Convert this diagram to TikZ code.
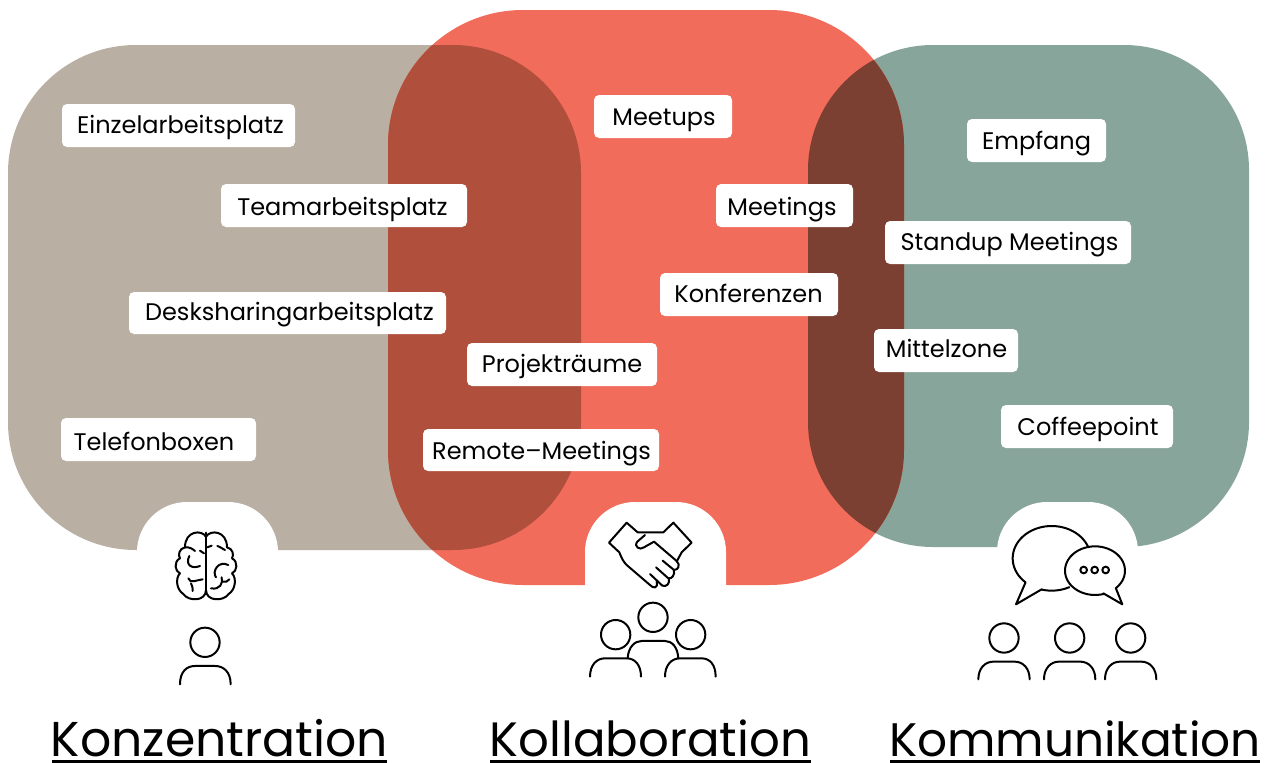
\documentclass[tikz,border=0pt]{standalone}
\usepackage{fontspec}
\setmainfont{Poppins}
\definecolor{tanc}{HTML}{B9AFA3}
\definecolor{redc}{HTML}{F16C5B}
\definecolor{greenc}{HTML}{88A59B}
\definecolor{tanred}{HTML}{AF4F3C}
\definecolor{redgreen}{HTML}{7B4032}
\tikzset{
  lab/.style={fill=white,rounded corners=5pt,inner sep=0pt},
  labt/.style={inner sep=0pt,anchor=base,font=\fontsize{24}{26}\selectfont,text=black},
  ttl/.style={inner sep=0pt,text=black,anchor=base},
  ul/.style={line width=3pt,draw=black},
  ic/.style={line width=2pt,draw=black,line join=round,line cap=round},
}
\newcommand{\tanpath}{[rounded corners=128pt] (8,45) rectangle (581,550)}
\newcommand{\redpath}{[rounded corners=135pt] (388,10) rectangle (904,585)}
\newcommand{\greenpath}{[rounded corners=125pt] (808,45) rectangle (1249,547)}
\newcommand{\lbl}[6]{\node[lab,minimum width=#3 pt,minimum height=#4 pt] (#1) at (#2) {}; \node[labt] (#1t) at (#5) {#6};}
\newcommand{\notchat}[2]{\fill[white] (#1,#2) [rounded corners=50pt] -- (#1,502) -- (#1+141,502) [sharp corners] -- (#1+141,#2) -- cycle;}
\begin{document}
\begin{tikzpicture}[x=1pt,y=-1pt]
\useasboundingbox (0,0) rectangle (1272,763);
\fill[white] (0,0) rectangle (1272,763);
\fill[tanc] \tanpath;
\fill[greenc] \greenpath;
\fill[redc] \redpath;
\begin{scope}
  \clip \redpath;
  \fill[tanred] \tanpath;
  \fill[redgreen] \greenpath;
\end{scope}
% notches
\notchat{137}{556}
\notchat{585}{590}
\notchat{997}{556}
% labels
\lbl{a}{178.5,125.5}{233}{43}{180.5,133}{Einzelarbeitsplatz}
\lbl{b}{344,205.5}{246}{43}{342.5,215}{Teamarbeitsplatz}
\lbl{c}{287.5,313}{317}{42}{289.5,320.5}{Desksharingarbeitsplatz}
\lbl{d}{158.5,439.5}{195}{43}{154,450}{Telefonboxen}
\lbl{e}{663,116.5}{138}{43}{664,125.5}{Meetups}
\lbl{f}{784.5,205.5}{137}{43}{782,215}{Meetings}
\lbl{g}{749,294.5}{178}{43}{748.5,302.7}{Konferenzen}
\lbl{h}{562,364.5}{190}{43}{562,372.3}{Projekträume}
\lbl{i}{541,450}{236}{42}{541.5,459.3}{Remote–Meetings}
\lbl{j}{1036.5,140.5}{139}{43}{1036.5,149}{Empfang}
\lbl{k}{1008,242.5}{246}{43}{1009.5,250.7}{Standup Meetings}
\lbl{l}{946,350.5}{144}{43}{946.5,357.7}{Mittelzone}
\lbl{m}{1087,426.5}{172}{43}{1088,435}{Coffeepoint}
% titles
\node[ttl,font=\fontsize{48.9}{52}\selectfont] (t1) at (219.5,756) {Konzentration};
\node[ttl,font=\fontsize{48.2}{52}\selectfont] (t2) at (650.5,756) {Kollaboration};
\node[ttl,font=\fontsize{47}{52}\selectfont] (t3) at (1075,756) {Kommunikation};
\coordinate (t1a) at (52,761); \coordinate (t1b) at (387,761);
\coordinate (t2a) at (490,761); \coordinate (t2b) at (811,761);
\coordinate (t3a) at (890,761); \coordinate (t3b) at (1260,761);
\draw[ul] (t1a) -- (t1b);
\draw[ul] (t2a) -- (t2b);
\draw[ul] (t3a) -- (t3b);
% brain + person
\begin{scope}[shift={(130,490)},x=0.3333pt,y=-0.3333pt]
  \draw[ic,line width=2.2pt] (228,128) -- (228,305);
  \draw[ic] (228,140) .. controls (215,118) and (165,122) .. (165,172)
    .. controls (148,175) and (143,195) .. (150,205)
    .. controls (130,215) and (135,245) .. (150,250)
    .. controls (135,265) and (140,300) .. (160,312)
    .. controls (175,335) and (228,335) .. (228,300);
  \draw[ic] (228,140) .. controls (241,118) and (291,122) .. (291,172)
    .. controls (308,175) and (313,195) .. (306,205)
    .. controls (326,215) and (321,245) .. (306,250)
    .. controls (321,265) and (316,300) .. (296,312)
    .. controls (281,335) and (228,335) .. (228,300);
  \draw[ic] (178,198) .. controls (165,225) and (185,238) .. (210,228);
  \draw[ic] (175,265) .. controls (180,282) and (200,270) .. (218,268);
  \draw[ic] (183,280) .. controls (188,288) and (188,295) .. (188,303);
  \draw[ic] (165,172) .. controls (178,170) and (190,178) .. (195,183);
  \draw[ic] (210,182) -- (222,190);
  \draw[ic] (232,172) -- (245,167);
  \draw[ic] (295,225) .. controls (265,210) and (245,245) .. (258,262);
  \draw[ic] (243,295) .. controls (270,300) and (280,280) .. (275,262);
  \draw[ic] (279,275) .. controls (285,278) and (293,275) .. (298,268);
  \draw[ic] (262,168) .. controls (270,170) and (280,178) .. (285,180);
  \draw[ic] (225,457) circle[radius=44];
  \draw[ic] (150,583) .. controls (150,545) and (170,528) .. (195,528) -- (255,528) .. controls (280,528) and (302,545) .. (302,583);
\end{scope}
% handshake + group
\begin{scope}[shift={(570,490)},x=0.3333pt,y=-0.3333pt]
  \draw[ic] (203,127) -- (170,98) -- (117,158) -- (148,187) .. controls (155,205) and (160,215) .. (170,225) -- (240,285) .. controls (250,297) and (265,295) .. (260,275);
  \draw[ic] (203,127) -- (280,127) -- (310,98) -- (365,158) -- (335,187) -- (320,215);
  \draw[ic] (225,135) -- (202,155) .. controls (190,170) and (210,182) .. (222,172) -- (252,155) -- (320,213) .. controls (332,225) and (325,240) .. (312,240) -- (278,212);
  \draw[ic] (312,240) .. controls (315,255) and (305,268) .. (295,265) -- (258,232);
  \draw[ic] (297,265) .. controls (300,280) and (290,292) .. (277,287) -- (240,252);
  \draw[ic] (249,382) circle[radius=44];
  \draw[ic] (137,434) circle[radius=44];
  \draw[ic] (362,434) circle[radius=44];
  \draw[ic] (173,505) .. controls (175,470) and (195,453) .. (215,453) -- (285,453) .. controls (305,453) and (323,470) .. (325,505);
  \draw[ic] (60,560) .. controls (60,525) and (80,505) .. (105,505) -- (170,505) .. controls (195,505) and (213,525) .. (213,560);
  \draw[ic] (285,560) .. controls (285,525) and (305,505) .. (330,505) -- (395,505) .. controls (420,505) and (437,525) .. (437,560);
\end{scope}
% speech + three people
\begin{scope}[shift={(960,490)},x=0.3333pt,y=-0.3333pt]
  \draw[ic] plot[smooth,domain=-20:-228,samples=40] ({275+117*cos(\x)},{205+97*sin(\x)}) -- (168,343) -- (245,298);
  \draw[ic] plot[smooth,domain=105:63,samples=12] ({275+117*cos(\x)},{205+97*sin(\x)});
  \draw[ic] plot[smooth,domain=72:406,samples=50] ({405+90*cos(\x)},{242+73*sin(\x)}) -- (487,343) -- (430,310);
  \foreach \px in {371,404,437} \draw[ic] (\px,240) circle[radius=10];
  \foreach \px in {132,329,512} {
    \draw[ic] (\px,444) circle[radius=44];
    \draw[ic] (\px-77,568) .. controls (\px-77,535) and (\px-57,515) .. (\px-32,515) -- (\px+32,515) .. controls (\px+57,515) and (\px+77,535) .. (\px+77,568);
  }
\end{scope}
\end{tikzpicture}
\end{document}
